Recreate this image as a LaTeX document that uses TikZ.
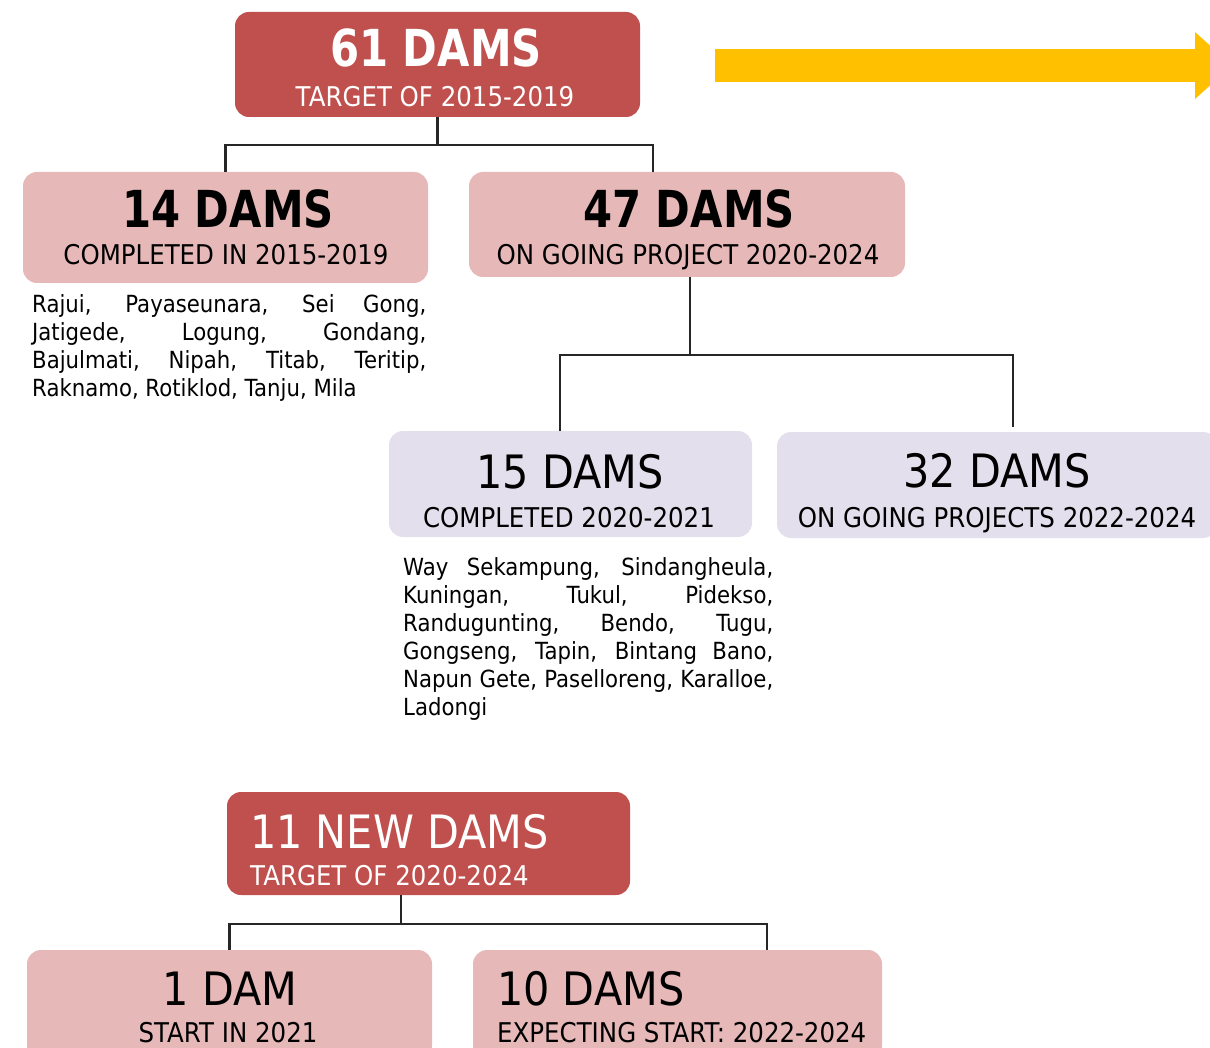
\documentclass[tikz,border=0pt]{standalone}
\usepackage{fontspec}
\setmainfont{DejaVu Sans}[FakeStretch=0.9]
\newfontfamily\heavyfont{DejaVu Sans}[FakeStretch=0.82]
\usepackage{tikz}
\usetikzlibrary{positioning,arrows.meta}

\definecolor{damred}{HTML}{C0504D}
\definecolor{dampink}{HTML}{E6B9B8}
\definecolor{damlilac}{HTML}{E4DFEC}
\definecolor{damyellow}{HTML}{FFC000}

\begin{document}
\begin{tikzpicture}[
  x=1pt, y=-1pt,
  box/.style={rounded corners=14pt, inner sep=0pt, minimum width=405pt, minimum height=105pt},
  redbox/.style={box, fill=damred},
  pinkbox/.style={box, fill=dampink},
  lilacbox/.style={box, fill=damlilac, minimum height=106pt},
  boldnum/.style={font=\heavyfont\bfseries\fontsize{51}{51}\selectfont, anchor=base, inner sep=0pt},
  bignum/.style={font=\fontsize{46}{46}\selectfont, anchor=base, inner sep=0pt},
  subline/.style={font=\fontsize{27.2}{30}\selectfont, anchor=base, inner sep=0pt},
  namelist/.style={font=\fontsize{23.6}{28}\selectfont, align=justify, anchor=north west, inner sep=0pt},
  link/.style={draw=black!85, line width=2.3pt},
  bigarrow/.style={draw=damyellow, line width=33pt, -{Triangle[length=37pt, width=67pt, line width=0pt]}}
]
\useasboundingbox (0,0) rectangle (1210,1048);

% first plan 2015-2019
\node[redbox] (target) at (437.5,64.5) {};
\node[boldnum, text=white] (target-num) at (436,67) {61 DAMS};
\node[subline, text=white] (target-sub) at (435,107) {TARGET OF 2015-2019};

\node[pinkbox, minimum height=111pt] (done) at (225.5,227.5) {};
\node[boldnum] (done-num) at (228,228) {14 DAMS};
\node[subline] (done-sub) at (226,265) {COMPLETED IN 2015-2019};

\node[pinkbox, minimum width=436pt] (going) at (687,224.5) {};
\node[boldnum] (going-num) at (689,228) {47 DAMS};
\node[subline] (going-sub) at (688,265) {ON GOING PROJECT 2020-2024};

\node[namelist, text width=394pt] (done-list) at (32,294) {\noindent Rajui, Payaseunara, Sei Gong,\linebreak Jatigede, Logung, Gondang,\linebreak Bajulmati, Nipah, Titab, Teritip,\linebreak Raknamo, Rotiklod, Tanju, Mila};

% split of the 47 dams
\node[lilacbox, minimum width=363pt] (finished) at (570.5,484) {};
\node[bignum] (finished-num) at (570,488) {15 DAMS};
\node[subline] (finished-sub) at (569,527) {COMPLETED 2020-2021};

\node[lilacbox, minimum width=440pt] (ongoing) at (997,485) {};
\node[bignum] (ongoing-num) at (997,487) {32 DAMS};
\node[subline] (ongoing-sub) at (997,527) {ON GOING PROJECTS 2022-2024};

\node[namelist, text width=370pt] (finished-list) at (403,557) {\noindent Way Sekampung, Sindangheula,\linebreak Kuningan, Tukul, Pidekso,\linebreak Randugunting, Bendo, Tugu,\linebreak Gongseng, Tapin, Bintang Bano,\linebreak Napun Gete, Paselloreng, Karalloe,\linebreak Ladongi};

% new dams 2020-2024
\node[redbox, minimum width=403pt, minimum height=103pt] (newtarget) at (428.5,843.5) {};
\node[bignum, anchor=base west, text=white] (newtarget-num) at (250,848) {11 NEW DAMS};
\node[subline, anchor=base west, text=white] (newtarget-sub) at (250,885) {TARGET OF 2020-2024};

\node[pinkbox, minimum height=110pt] (startone) at (229.5,1005) {};
\node[bignum] (startone-num) at (230,1005) {1 DAM};
\node[subline] (startone-sub) at (228,1042) {START IN 2021};

\node[pinkbox, minimum width=409pt, minimum height=110pt] (expectten) at (677.5,1005) {};
\node[bignum, anchor=base west] (expectten-num) at (497,1005) {10 DAMS};
\node[subline, anchor=base west] (expectten-sub) at (497,1042) {EXPECTING START: 2022-2024};

% connectors
\draw[link] (target.south) -- ++(0,28) coordinate (split1);
\draw[link] (split1) -| (done.north);
\draw[link] (split1) -| ([xshift=-34pt]going.north);

\draw[link] ([xshift=3pt]going.south) -- ++(0,78) coordinate (split2);
\draw[link] (split2) -| ([xshift=-10.5pt]finished.north);
\draw[link] (split2) -| ([shift={(16pt,5pt)}]ongoing.north);

\draw[link] ([xshift=-27.5pt]newtarget.south) -- ++(0,29) coordinate (split3);
\draw[link] (split3) -| (startone.north);
\draw[link] (split3) -| ([xshift=89.5pt]expectten.north);

% yellow arrow
\coordinate (arrowtail) at (715,65.5);
\coordinate (arrowhead) at (1232,65.5);
\draw[bigarrow] (arrowtail) -- (arrowhead);
\end{tikzpicture}
\end{document}
